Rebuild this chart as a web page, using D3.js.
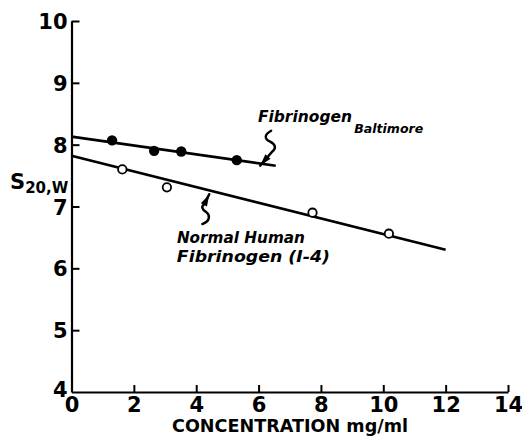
<!DOCTYPE html>
<html>
<head>
<meta charset="utf-8">
<script src="https://cdn.jsdelivr.net/npm/d3@7"></script>
<style>
  body { margin: 0; background: #fff; }
  svg { display: block; }
  text { font-family: "DejaVu Sans", sans-serif; fill: #000; }
</style>
</head>
<body>
<svg id="chart" width="522" height="436"></svg>
<script>
// sedimentation coefficient vs concentration
const baltimoreConc = [1.3, 2.65, 3.52, 5.3];
const baltimoreS = [8.07, 7.9, 7.89, 7.75];
const normalConc = [1.63, 3.06, 7.73, 10.18];
const normalS = [7.6, 7.31, 6.9, 6.56];

// fitted lines: [start, end] as [conc, s]
const baltimoreFit = [[0, 8.13], [6.55, 7.66]];
const normalFit = [[0, 7.82], [12, 6.3]];

const xTicks = [0, 2, 4, 6, 8, 10, 12, 14];
const yTicks = [4, 5, 6, 7, 8, 9, 10];

const svg = d3.select("#chart");

const x = d3.scaleLinear().domain([0, 14]).range([71.5, 508]);
const y = d3.scaleLinear().domain([4, 10]).range([392, 21]);

// axes, ticks pointing inward like the original drawing
const xAxis = svg.append("g").attr("transform", `translate(0,${y(4)})`)
  .call(d3.axisBottom(x).tickValues(xTicks).tickFormat(d3.format("d"))
    .tickSizeInner(-7).tickSizeOuter(0).tickPadding(16));
const yAxis = svg.append("g").attr("transform", `translate(${x(0)},0)`)
  .call(d3.axisLeft(y).tickValues(yTicks).tickFormat(d3.format("d"))
    .tickSizeInner(-8).tickSizeOuter(0).tickPadding(4));

[xAxis, yAxis].forEach((g) => {
  g.select(".domain").attr("stroke", "#000").attr("stroke-width", 2.2);
  g.selectAll(".tick line").attr("stroke", "#000").attr("stroke-width", 2);
  g.selectAll(".tick text")
    .attr("fill", "#000")
    .attr("font-family", "DejaVu Sans, sans-serif")
    .attr("font-size", 21)
    .attr("font-weight", "bold");
});
xAxis.selectAll(".tick text").attr("dy", "0.71em").attr("y", 5);
xAxis.selectAll(".tick").filter((d) => d === 0).select("line").remove();
yAxis.selectAll(".tick").filter((d) => d === 4).select("line").remove();
yAxis.selectAll(".tick text").attr("dy", "0.36em");
yAxis.selectAll(".tick").filter((d) => d === 4).select("text").attr("dy", "0.2em");

// fit lines
const line = d3.line().x((d) => x(d[0])).y((d) => y(d[1]));
[baltimoreFit, normalFit].forEach((pts) => {
  svg.append("path").attr("d", line(pts))
    .attr("fill", "none").attr("stroke", "#000").attr("stroke-width", 2.6);
});

// points
svg.append("g").selectAll("circle")
  .data(d3.zip(baltimoreConc, baltimoreS))
  .join("circle")
  .attr("cx", (d) => x(d[0])).attr("cy", (d) => y(d[1]))
  .attr("r", 5.2).attr("fill", "#000");

svg.append("g").selectAll("circle")
  .data(d3.zip(normalConc, normalS))
  .join("circle")
  .attr("cx", (d) => x(d[0])).attr("cy", (d) => y(d[1]))
  .attr("r", 4.2).attr("fill", "#fff").attr("stroke", "#000").attr("stroke-width", 1.8);

// squiggly arrows pointing at each line
function squiggle(tip, d, from) {
  const tx = x(tip[0]), ty = y(tip[1]);
  const g = svg.append("g").attr("transform", `translate(${tx},${ty})`);
  g.append("path").attr("d", d)
    .attr("fill", "none").attr("stroke", "#000").attr("stroke-width", 2.4)
    .attr("stroke-linecap", "round");
  const ang = Math.atan2(-from[1], -from[0]);
  const len = 12, w = 3.4;
  const bx = -Math.cos(ang) * len, by = -Math.sin(ang) * len;
  const px = -Math.sin(ang) * w, py = Math.cos(ang) * w;
  g.append("path")
    .attr("d", `M0,0L${bx + px},${by + py}L${bx - px},${by - py}Z`)
    .attr("fill", "#000");
}
squiggle([6.05, 7.66], "M11,-35C4,-31 4,-27 10,-24C16,-21 16,-17 12,-14L0,0", [12, -14]);
squiggle([4.42, 7.2], "M-7,30C1,27 1,21 -3,18C-8,15 -8,12 -5,10L0,0", [-5, 10]);

// labels
svg.append("text")
  .attr("x", x(5.98)).attr("y", y(8.37))
  .attr("font-size", 16.5).attr("font-weight", "bold").attr("font-style", "italic")
  .attr("textLength", 94).attr("lengthAdjust", "spacingAndGlyphs")
  .text("Fibrinogen");
svg.append("text")
  .attr("x", x(6.02) + 95).attr("y", y(8.37) + 11)
  .attr("font-size", 13).attr("font-weight", "bold").attr("font-style", "italic")
  .attr("textLength", 69).attr("lengthAdjust", "spacingAndGlyphs")
  .text("Baltimore");

svg.append("text")
  .attr("x", x(3.38)).attr("y", y(6.41))
  .attr("font-size", 16.5).attr("font-weight", "bold").attr("font-style", "italic")
  .attr("textLength", 128).attr("lengthAdjust", "spacingAndGlyphs")
  .text("Normal Human");
svg.append("text")
  .attr("x", x(3.38)).attr("y", y(6.1))
  .attr("font-size", 16.5).attr("font-weight", "bold").attr("font-style", "italic")
  .attr("textLength", 153).attr("lengthAdjust", "spacingAndGlyphs")
  .text("Fibrinogen (I-4)");

// y axis title S20,W
const yt = svg.append("text").attr("x", 10).attr("y", 189).attr("font-weight", "bold");
yt.append("tspan").attr("font-size", 21).text("S");
yt.append("tspan").attr("font-size", 15).attr("dy", 4).text("20,W");

// x axis title
svg.append("text")
  .attr("x", 172).attr("y", 432)
  .attr("font-size", 18).attr("font-weight", "bold")
  .attr("textLength", 236).attr("lengthAdjust", "spacingAndGlyphs")
  .text("CONCENTRATION mg/ml");
</script>
</body>
</html>
